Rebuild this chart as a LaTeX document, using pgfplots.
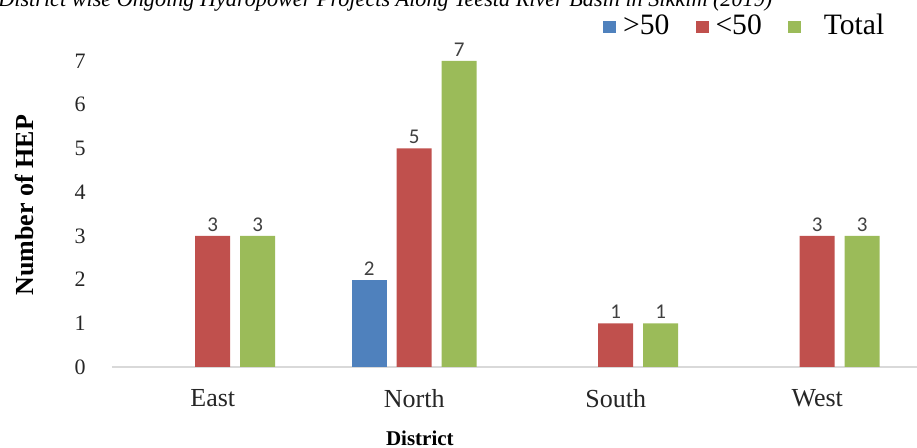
\documentclass[border=0pt]{standalone}
\usepackage{fontspec}
\setmainfont{Liberation Serif}
\newfontfamily\labelfont{Carlito}
\usepackage{pgfplots}
\pgfplotsset{compat=1.18}

\definecolor{barBlue}{HTML}{4F81BD}
\definecolor{barRed}{HTML}{C0504D}
\definecolor{barGreen}{HTML}{9BBB59}
\definecolor{axisGray}{HTML}{D9D9D9}
\definecolor{txtGray}{HTML}{404040}

\begin{document}
\begin{tikzpicture}
\path[use as bounding box] (0,0) rectangle (458.5pt,224pt);

\node[anchor=base west, inner sep=0pt, font=\fontsize{11.1}{12}\selectfont\itshape]
  at (-1pt,220.8pt) {District wise Ongoing Hydropower Projects Along Teesta River Basin in Sikkim (2019)};

\begin{axis}[
  at={(56pt,40.5pt)}, anchor=south west,
  scale only axis, width=403pt, height=153pt,
  xmin=-0.5, xmax=3.5, ymin=0, ymax=7,
  clip=false,
  axis lines*=left,
  x axis line style={draw=axisGray, line width=0.8pt, -},
  y axis line style={draw=none},
  tick style={draw=none},
  xtick={0,1,2,3},
  xticklabels={East,North,South,West},
  ytick={0,1,...,7},
  /pgf/number format/assume math mode=true,
  yticklabel style={font=\fontsize{11}{12}\selectfont, text=black!85, anchor=east, inner sep=0pt, xshift=-13pt},
  xticklabel style={font=\fontsize{13}{14}\selectfont, text=black!85, anchor=north, inner sep=0pt, yshift=-7pt},
  every axis y label/.style={at={(axis description cs:-0.108,0.529)}, rotate=90, anchor=center,
    font=\fontsize{13}{14}\selectfont\bfseries},
  ylabel={Number of HEP},
  every axis x label/.style={at={(axis description cs:0.382,-0.232)}, anchor=center,
    font=\fontsize{10.5}{12}\selectfont\bfseries},
  xlabel={District},
  ybar, bar width=17.5pt,
  nodes near coords,
  every node near coord/.append style={font=\labelfont\fontsize{10.5}{12}\selectfont, text=txtGray, anchor=south, inner sep=2pt},
  legend columns=-1,
  legend style={draw=none, fill=none, at={(axis description cs:0.609,1.114)}, anchor=west,
    inner sep=0pt, font=\fontsize{14.8}{16}\selectfont,
    /tikz/every odd column/.style={column sep=1.5pt},
    /tikz/every even column/.style={column sep=11pt}},
  legend image code/.code={\fill[#1] (0pt,-3.5pt) rectangle (6.5pt,2.5pt);},
]
\addplot[fill=barBlue, draw=none, bar shift=-22.5pt] coordinates {(1,2)};
\addlegendentry{>50}
\addplot[fill=barRed, draw=none, bar shift=0pt] coordinates {(0,3) (1,5) (2,1) (3,3)};
\addlegendentry{<50}
\addplot[fill=barGreen, draw=none, bar shift=22.5pt] coordinates {(0,3) (1,7) (2,1) (3,3)};
\addlegendentry{\hspace{8pt}Total}
\end{axis}
\end{tikzpicture}
\end{document}
